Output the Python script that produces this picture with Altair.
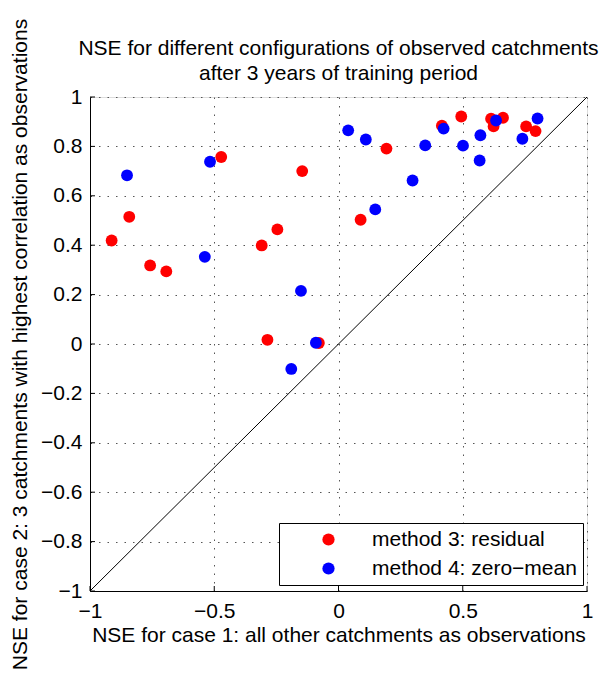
import altair as alt
import pandas as pd

# method 3: residual
red_x = [-0.913, -0.842, -0.758, -0.693, -0.472, -0.146, -0.309, -0.246, -0.286, -0.079,
         0.193, 0.416, 0.494, 0.614, 0.662, 0.624, 0.755, 0.793, 0.089]
red_y = [0.419, 0.515, 0.318, 0.294, 0.757, 0.700, 0.399, 0.464, 0.017, 0.004,
         0.791, 0.884, 0.921, 0.912, 0.916, 0.881, 0.881, 0.862, 0.503]
# method 4: zero-mean
blue_x = [-0.851, -0.517, -0.538, -0.151, -0.091, -0.190, 0.039, 0.110, 0.349, 0.423,
          0.501, 0.571, 0.568, 0.634, 0.740, 0.801, 0.298, 0.148]
blue_y = [0.683, 0.738, 0.353, 0.215, 0.005, -0.101, 0.865, 0.828, 0.804, 0.872,
          0.803, 0.845, 0.743, 0.905, 0.831, 0.913, 0.662, 0.545]

series = ["method 3: residual", "method 4: zero\u2212mean"]
colors = ["#ff0000", "#0000ff"]
x_ticks = [-1, -0.5, 0, 0.5, 1]
y_ticks = [-1, -0.8, -0.6, -0.4, -0.2, 0, 0.2, 0.4, 0.6, 0.8, 1]
diag = [-1, 1]
title_lines = ["NSE for different configurations of observed catchments",
               "after 3 years of training period"]

pts = pd.DataFrame({
    "x": red_x + blue_x,
    "y": red_y + blue_y,
    "method": [series[0]] * len(red_x) + [series[1]] * len(blue_x),
    "ord": list(range(len(red_x) + len(blue_x))),
})
diag_df = pd.DataFrame({"x": diag, "y": diag})
xt_df = pd.DataFrame({"v": x_ticks})
yt_df = pd.DataFrame({"v": y_ticks})

W, H = 497, 494
FONT = "Liberation Sans"
FS = 21

xs = alt.Scale(domain=[-1, 1], nice=False, zero=False)
ys = alt.Scale(domain=[-1, 1], nice=False, zero=False)

common = dict(grid=True, gridDash=[1.5, 7], gridColor="#555555", gridWidth=1,
              domainColor="black", tickSize=0, labelFlush=False,
              labelFontSize=FS, titleFontSize=FS, labelFont=FONT, titleFont=FONT,
              titleFontWeight="normal", labelColor="black", titleColor="black")

xaxis = alt.Axis(values=x_ticks, format="~f",
                 title="NSE for case 1: all other catchments as observations",
                 labelPadding=9, titlePadding=3, **common)
yaxis = alt.Axis(values=y_ticks, format="~f",
                 title="NSE for case 2: 3 catchments with highest correlation as observations",
                 labelPadding=8, titlePadding=10, **common)

diag_line = alt.Chart(diag_df).mark_line(color="black", strokeWidth=1).encode(
    x=alt.X("x:Q", scale=xs, axis=xaxis),
    y=alt.Y("y:Q", scale=ys, axis=yaxis),
)

xticks = alt.Chart(xt_df).mark_rule(color="black", strokeWidth=1).encode(
    x=alt.X("v:Q", scale=xs), y=alt.value(H), y2=alt.value(H - 5))
yticks = alt.Chart(yt_df).mark_rule(color="black", strokeWidth=1).encode(
    y=alt.Y("v:Q", scale=ys), x=alt.value(0), x2=alt.value(5))

points = alt.Chart(pts).mark_circle(size=140, opacity=1).encode(
    x=alt.X("x:Q", scale=xs),
    y=alt.Y("y:Q", scale=ys),
    order=alt.Order("ord:Q"),
    color=alt.Color("method:N", scale=alt.Scale(domain=series, range=colors),
                    legend=alt.Legend(title=None, orient="none", legendX=189, legendY=426,
                                      strokeColor="black", fillColor="white", padding=6,
                                      symbolOffset=33, symbolSize=150, symbolType="circle",
                                      labelOffset=33, rowPadding=7, labelLimit=400,
                                      labelFontSize=FS, labelFont=FONT, labelColor="black")),
)

title1 = alt.Chart(pd.DataFrame({"t": [title_lines[0]]})).mark_text(
    font=FONT, fontSize=FS, color="black", align="center", baseline="alphabetic"
).encode(text="t:N", x=alt.value(W / 2), y=alt.value(-42))
title2 = alt.Chart(pd.DataFrame({"t": [title_lines[1]]})).mark_text(
    font=FONT, fontSize=FS, color="black", align="center", baseline="alphabetic"
).encode(text="t:N", x=alt.value(W / 2), y=alt.value(-17))

chart = alt.layer(diag_line, xticks, yticks, points, title1, title2).properties(
    width=W, height=H,
    autosize=alt.AutoSizeParams(type="none"),
    padding={"left": 90, "top": 97, "right": 18, "bottom": 82},
).configure_view(strokeWidth=0).configure(background="white")

chart.save("out.html", embed_options={"renderer": "svg", "actions": False})
